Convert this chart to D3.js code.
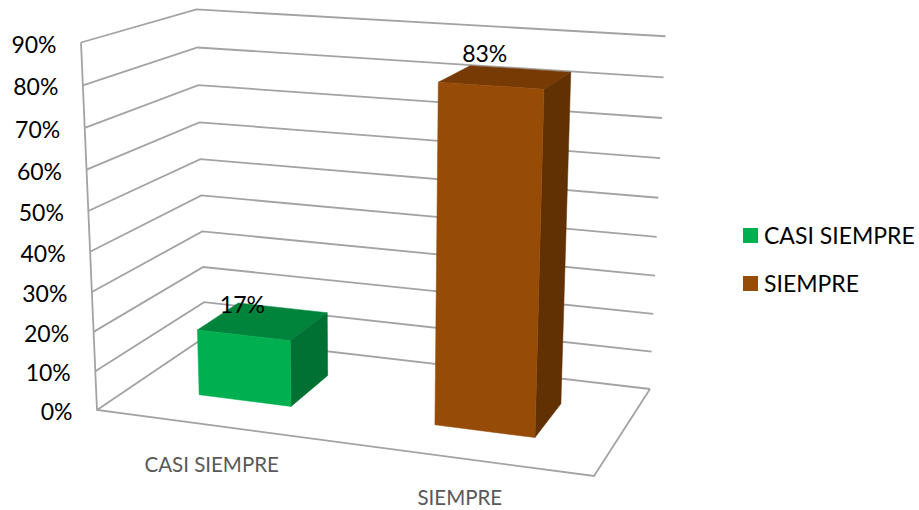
<!DOCTYPE html>
<html><head><meta charset="utf-8">
<script src="https://cdn.jsdelivr.net/npm/d3@7"></script>
<style>html,body{margin:0;padding:0;background:#fff}svg{display:block}text{font-family:Lato,"Open Sans",sans-serif}</style>
</head><body><svg id="c" width="919" height="510"></svg>
<script>
const categories = ["CASI SIEMPRE", "SIEMPRE"];
const values = [17, 83];
const valueLabels = ["17%", "83%"];
const ticks = [0,10,20,30,40,50,60,70,80,90];
const frontColors = ["#00B050", "#964B06"];
const topColors = ["#00843C", "#773A05"];
const sideColors = ["#007133", "#613103"];

// Projective frame from the drawn box corners
const D=[97,410], X=[594,476], Z=[205,337], V=[81,42.5], P=[650,389], Q=[196,8];
const det=(X[0]-P[0])*(Z[1]-P[1])-(Z[0]-P[0])*(X[1]-P[1]);
const r=[P[0]-X[0]-Z[0]+D[0],P[1]-X[1]-Z[1]+D[1]];
const g=(r[0]*(Z[1]-P[1])-(Z[0]-P[0])*r[1])/det;
const h=((X[0]-P[0])*r[1]-r[0]*(X[1]-P[1]))/det;
const vq=[V[0]-Q[0],V[1]-Q[1]];
const rhs=[Q[0]-Z[0]-V[0]+D[0]-h*(Z[0]-Q[0]),Q[1]-Z[1]-V[1]+D[1]-h*(Z[1]-Q[1])];
const i3=(vq[0]*rhs[0]+vq[1]*rhs[1])/(vq[0]*vq[0]+vq[1]*vq[1]);
const ax=[0,1].map(k=>X[k]*(1+g)-D[k]), bx=[0,1].map(k=>Z[k]*(1+h)-D[k]), cx=[0,1].map(k=>V[k]*(1+i3)-D[k]);
const vScale=d3.scaleLinear().domain([0,90]).range([0,1]);
const xScale=d3.scaleBand().domain(categories).range([0,1]).paddingInner(0.6).paddingOuter(0.3);
const zFront=0.3, zBack=0.7;
function pr(x,z,val){
  const v=vScale(val), w=1+g*x+h*z+i3*v;
  return [0,1].map(k=>(ax[k]*x+bx[k]*z+cx[k]*v+D[k])/w);
}
const svg=d3.select("#c");
const line=d3.line();
const gridC="#A3A3A3";
const grid=svg.append("g").attr("fill","none").attr("stroke",gridC).attr("stroke-width",1.8);
grid.selectAll("path.g").data(ticks).join("path").attr("class","g")
  .attr("d",t=>line([pr(0,0,t),pr(0,1,t),pr(1,1,t)]));
grid.append("path").attr("d",line([pr(0,0,90),pr(0,0,0),pr(1,0,0),pr(1,1,0)]));

const bars=svg.append("g").selectAll("g").data(categories).join("g");
const poly=(sel,fn,col)=>sel.append("path").attr("d",(c,i)=>line(fn(c,values[i]))+"Z").attr("fill",(c,i)=>col[i])
  .attr("stroke",(c,i)=>col[i]).attr("stroke-width",0.5);
const x0=c=>xScale(c), x1=c=>xScale(c)+xScale.bandwidth();
poly(bars,(c,v)=>[pr(x0(c),zFront,v),pr(x1(c),zFront,v),pr(x1(c),zBack,v),pr(x0(c),zBack,v)],topColors);
poly(bars,(c,v)=>[pr(x1(c),zFront,v),pr(x1(c),zBack,v),pr(x1(c),zBack,0),pr(x1(c),zFront,0)],sideColors);
poly(bars,(c,v)=>[pr(x0(c),zFront,v),pr(x1(c),zFront,v),pr(x1(c),zFront,0),pr(x0(c),zFront,0)],frontColors);

svg.append("g").selectAll("text").data(ticks).join("text")
  .attr("x",t=>pr(0,0,t)[0]-24.5).attr("y",t=>pr(0,0,t)[1]+2).attr("dy","0.35em")
  .attr("text-anchor","end").attr("font-size",23).attr("fill","#000").text(t=>t+"%");
svg.append("g").selectAll("text").data(categories).join("text")
  .attr("x",c=>pr(xScale(c)+xScale.bandwidth()/2,0,0)[0]-1.5)
  .attr("y",c=>pr(xScale(c)+xScale.bandwidth()/2,0,0)[1]+39.5).attr("dy","0.35em")
  .attr("text-anchor","middle").attr("font-size",20.5).attr("fill","#595959").text(c=>c);
const labelLift=d3.scaleLinear().domain(d3.extent(values)).range([16,23]);
svg.append("g").selectAll("text").data(categories).join("text")
  .attr("x",(c,i)=>pr(xScale(c)+xScale.bandwidth()/2,(zFront+zBack)/2,values[i])[0]-21)
  .attr("y",(c,i)=>pr(xScale(c)+xScale.bandwidth()/2,(zFront+zBack)/2,values[i])[1]-labelLift(values[i])).attr("dy","0.35em")
  .attr("text-anchor","middle").attr("font-size",23).attr("fill","#000").text((c,i)=>valueLabels[i]);

const legY=d3.scalePoint().domain(categories).range([235.5,283.5]);
const leg=svg.append("g").selectAll("g").data(categories).join("g");
leg.append("rect").attr("x",743).attr("y",c=>legY(c)-7.5).attr("width",15).attr("height",15).attr("fill",(c,i)=>frontColors[i]);
leg.append("text").attr("x",764).attr("y",c=>legY(c)).attr("dy","0.35em").attr("font-size",23).attr("fill","#000").text(c=>c);
</script></body></html>
